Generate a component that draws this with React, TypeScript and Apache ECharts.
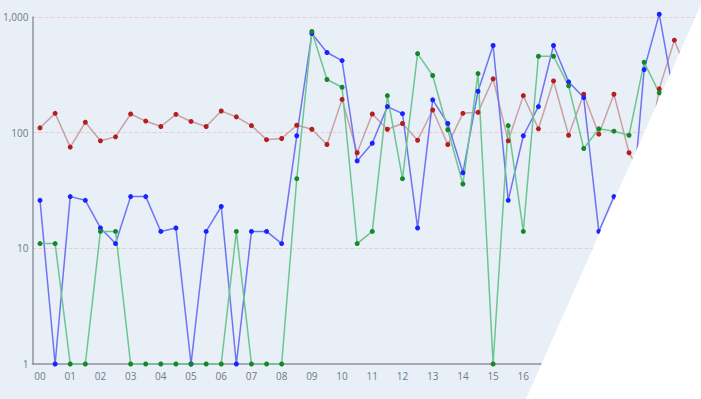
import React, { useEffect, useRef } from "react";
import * as echarts from "echarts";

const hours = ["00","01","02","03","04","05","06","07","08","09","10","11","12","13","14","15","16","17","18","19","20","21"];
const categories: string[] = [];
hours.forEach((h) => { categories.push(h + ":00"); categories.push(h + ":30"); });
const cats = categories.slice(0, 44);

const redValues = [110,147,75,123,85,92,145,126,113,144,125,113,154,137,115,87,89,116,107,79,194,67,145,107,120,86,157,79,147,150,292,85,209,108,280,95,215,97,215,67,40,239,630,300];
const blueValues = [26,1,28,26,15,11,28,28,14,15,1,14,23,1,14,14,11,94,720,493,420,57,81,168,146,15,192,120,45,228,567,26,94,168,567,275,201,14,28,11,351,1057,200,150];
const greenValues = [11,11,1,1,14,14,1,1,1,1,1,1,1,14,1,1,1,40,749,288,247,11,14,209,40,483,312,106,36,324,1,115,14,458,458,254,73,108,103,95,406,221,150,120];
const yTicks = [1, 10, 100, 1000];

export default function App() {
  const ref = useRef<HTMLDivElement>(null);
  useEffect(() => {
    if (!ref.current) return;
    const chart = echarts.init(ref.current, null, { renderer: "svg" });
    const mk = (name: string, data: number[], line: string, dot: string) => ({
      name,
      type: "line",
      data,
      symbol: "circle",
      symbolSize: 5,
      showAllSymbol: true,
      clip: false,
      lineStyle: { color: line, width: 1.5 },
      itemStyle: { color: dot },
      z: 2,
    });
    chart.setOption({
      animation: false,
      backgroundColor: "#e8eff7",
      grid: { left: 28, top: 17, bottom: 35, right: 4, containLabel: false },
      xAxis: {
        type: "category",
        data: cats,
        boundaryGap: true,
        axisLine: { lineStyle: { color: "#8e959c", width: 1.5 } },
        axisTick: { show: false },
        axisLabel: {
          interval: 1,
          color: "#6f7a86",
          fontSize: 10,
          fontFamily: "Open Sans",
          margin: 7,
          formatter: (v: string) => v.slice(0, 2),
        },
        splitLine: { show: false },
      },
      yAxis: {
        type: "log",
        logBase: 10,
        min: yTicks[0],
        max: yTicks[yTicks.length - 1],
        axisLine: { show: true, lineStyle: { color: "#8e959c", width: 1.5 } },
        axisTick: { show: false },
        axisLabel: {
          color: "#6f7a86",
          fontSize: 10,
          fontFamily: "Open Sans",
          margin: 4,
          formatter: (v: number) => Math.round(v).toLocaleString("en-US"),
        },
        splitLine: { show: true, lineStyle: { color: "#e6cfcf", type: "dashed", width: 1 } },
      },
      series: [
        mk("red", redValues, "#c9a0a4", "#b41e1e"),
        mk("blue", blueValues, "#6e74f2", "#1a22ff"),
        mk("green", greenValues, "#6cc690", "#16862a"),
      ],
      graphic: [
        {
          type: "polygon",
          z: 100,
          shape: { points: [[703, 0], [710, 0], [710, 410], [526, 399]] },
          style: { fill: "#ffffff" },
        },
      ],
    });
    return () => chart.dispose();
  }, []);
  return <div ref={ref} style={{ position: "fixed", left: 0, top: 0, width: 701, height: 399 }} />;
}
